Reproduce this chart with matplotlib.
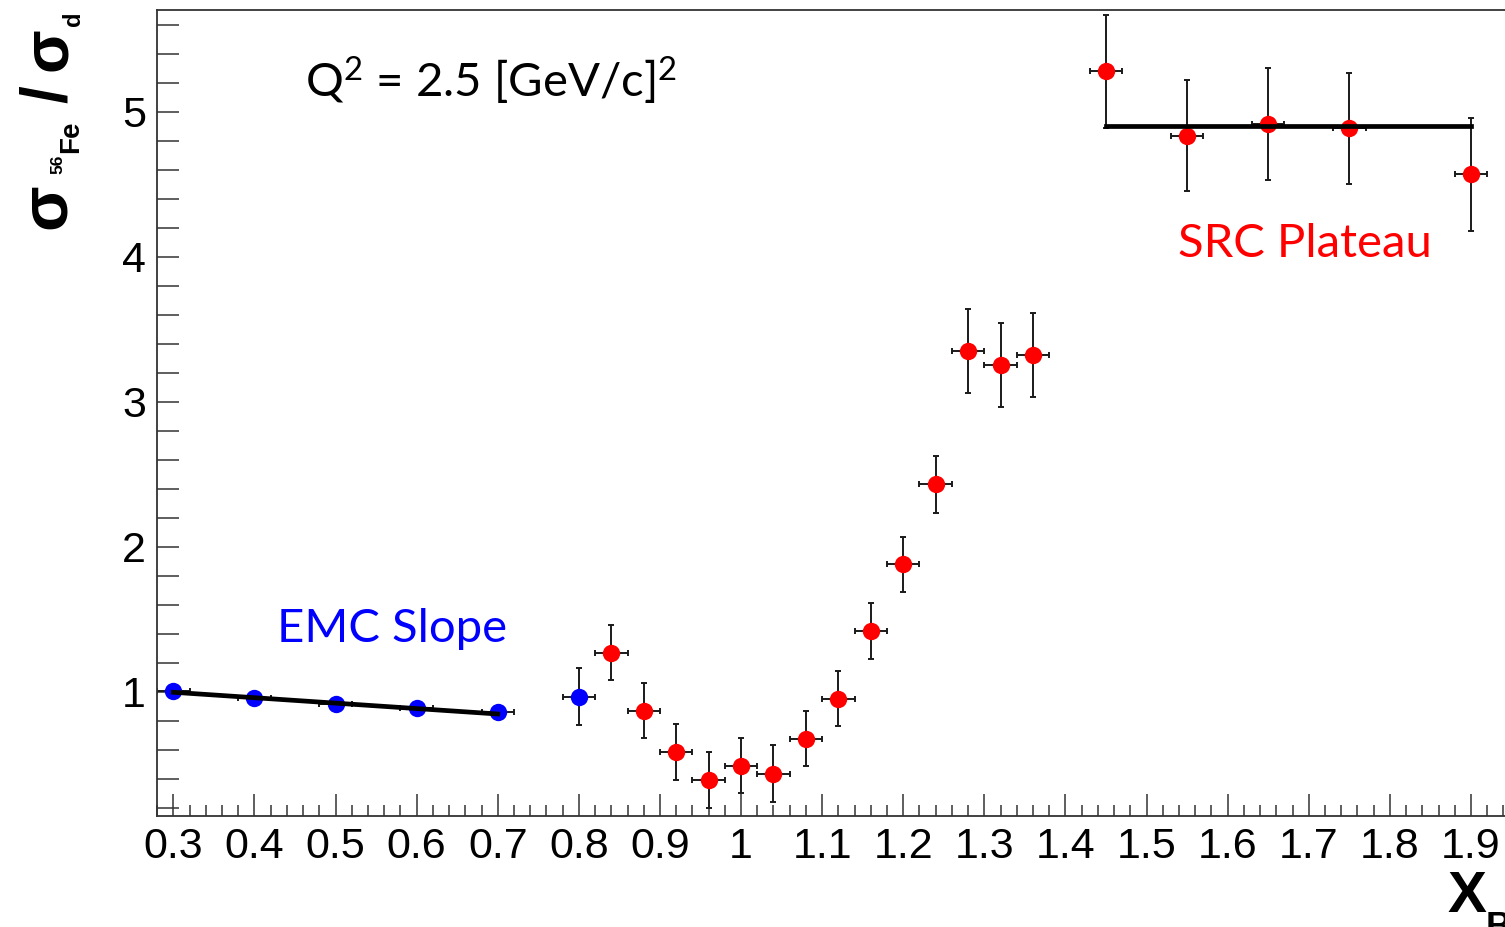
import matplotlib
matplotlib.use("Agg")
import matplotlib.pyplot as plt
from matplotlib.ticker import MultipleLocator, FuncFormatter

plt.rcParams['font.family'] = ['Liberation Sans', 'DejaVu Sans']

# EMC 区 (蓝点)
emc_x = [0.3, 0.4, 0.5, 0.6, 0.7, 0.8]
emc_y = [1.007, 0.955, 0.913, 0.886, 0.858, 0.966]
emc_yerr = [0.02, 0.02, 0.02, 0.02, 0.02, 0.195]

# 红点
src_x = [0.84, 0.88, 0.92, 0.96, 1.00, 1.04, 1.08, 1.12, 1.16, 1.20,
         1.24, 1.28, 1.32, 1.36, 1.45, 1.55, 1.65, 1.75, 1.90]
src_y = [1.27, 0.87, 0.585, 0.39, 0.49, 0.435, 0.675, 0.95, 1.42, 1.88,
         2.43, 3.35, 3.25, 3.32, 5.28, 4.835, 4.915, 4.885, 4.57]
src_yerr = [0.19, 0.19, 0.195, 0.195, 0.19, 0.195, 0.19, 0.19, 0.195, 0.19,
            0.195, 0.29, 0.29, 0.29, 0.39, 0.385, 0.385, 0.385, 0.39]
x_err = 0.02

# 拟合直线
emc_fit_x = [0.3, 0.7]
emc_fit_y = [0.996, 0.846]
src_fit_x = [1.45, 1.90]
src_fit_y = [4.90, 4.90]

W, H = 1505, 927
def fx(px):
    return px / W
def fy(py):
    return 1 - py / H

fig = plt.figure(figsize=(W / 100, H / 100), dpi=100)
ax = fig.add_axes([fx(157), fy(815.5), 1 - fx(157), fy(9.5) - fy(815.5)])

ecol = '#1a1a1a'
ax.errorbar(emc_x, emc_y, xerr=x_err, yerr=emc_yerr, fmt='none', ecolor=ecol,
            elinewidth=1.4, capsize=2.5, capthick=1.4, zorder=2)
ax.errorbar(src_x, src_y, xerr=x_err, yerr=src_yerr, fmt='none', ecolor=ecol,
            elinewidth=1.4, capsize=2.5, capthick=1.4, zorder=2)
ax.plot(emc_x, emc_y, 'o', color='#0000ff', ms=12.5, mew=0, zorder=3)
ax.plot(src_x, src_y, 'o', color='#ff0000', ms=12.5, mew=0, zorder=3)
ax.plot(emc_fit_x, emc_fit_y, color='black', lw=3.4, zorder=4)
ax.plot(src_fit_x, src_fit_y, color='black', lw=3.4, zorder=4)

ax.set_xlim(0.2799, 1.9419)
ax.set_ylim(0.146, 5.705)

ax.xaxis.set_major_locator(MultipleLocator(0.1))
ax.xaxis.set_minor_locator(MultipleLocator(0.02))
ax.yaxis.set_major_locator(MultipleLocator(1))
ax.yaxis.set_minor_locator(MultipleLocator(0.2))
fmt = FuncFormatter(lambda v, p: '%g' % round(v, 2))
ax.xaxis.set_major_formatter(fmt)
ax.yaxis.set_major_formatter(fmt)

spc = '#333333'
for s in ['left', 'bottom', 'top']:
    ax.spines[s].set_color(spc)
    ax.spines[s].set_linewidth(1.3)
ax.spines['right'].set_visible(False)

ax.tick_params(axis='x', which='major', direction='in', length=16, width=1.1,
               color=spc, labelsize=31, pad=8)
ax.tick_params(axis='x', which='minor', direction='in', length=8, width=1.1, color=spc)
ax.tick_params(axis='y', which='major', direction='in', length=16, width=1.1,
               color=spc, labelsize=31, pad=8)
ax.tick_params(axis='y', which='minor', direction='in', length=16, width=1.1, color=spc)

# 文本标注
txt_font = ['Lato', 'DejaVu Sans']
fig.text(fx(305), fy(97), r'Q$\mathregular{^{2}}$ = 2.5 [GeV/c$\mathregular{]^{2}}$',
         fontsize=34, family=txt_font, ha='left', va='baseline', color='black')
fig.text(fx(277), fy(642), 'EMC Slope', fontsize=34, family=txt_font,
         ha='left', va='baseline', color='#0000ff')
fig.text(fx(1178), fy(257), 'SRC Plateau', fontsize=34, family=txt_font,
         ha='left', va='baseline', color='#ff0000')

# y 轴标题 σ_{56Fe} / σ_d (分段绘制)
lab = dict(rotation=90, rotation_mode='anchor', ha='left', va='baseline',
           fontweight='bold', family=['Liberation Sans', 'DejaVu Sans'])
fig.text(fx(65), fy(229), 'σ', fontsize=48, **lab)
fig.text(fx(62), fy(174), '56', fontsize=12.5, **lab)
fig.text(fx(78), fy(153), 'Fe', fontsize=20, **lab)
fig.text(fx(66), fy(103), '/', fontsize=46, **lab)
fig.text(fx(66), fy(71), 'σ', fontsize=46, **lab)
fig.text(fx(80), fy(26), 'd', fontsize=17, **lab)

# x 轴标题 X_B
fig.text(fx(1447), fy(912), 'X', fontsize=42, fontweight='bold',
         ha='left', va='baseline')
fig.text(fx(1486), fy(938), 'B', fontsize=26, fontweight='bold',
         ha='left', va='baseline')

fig.savefig('out.png', dpi=100)
